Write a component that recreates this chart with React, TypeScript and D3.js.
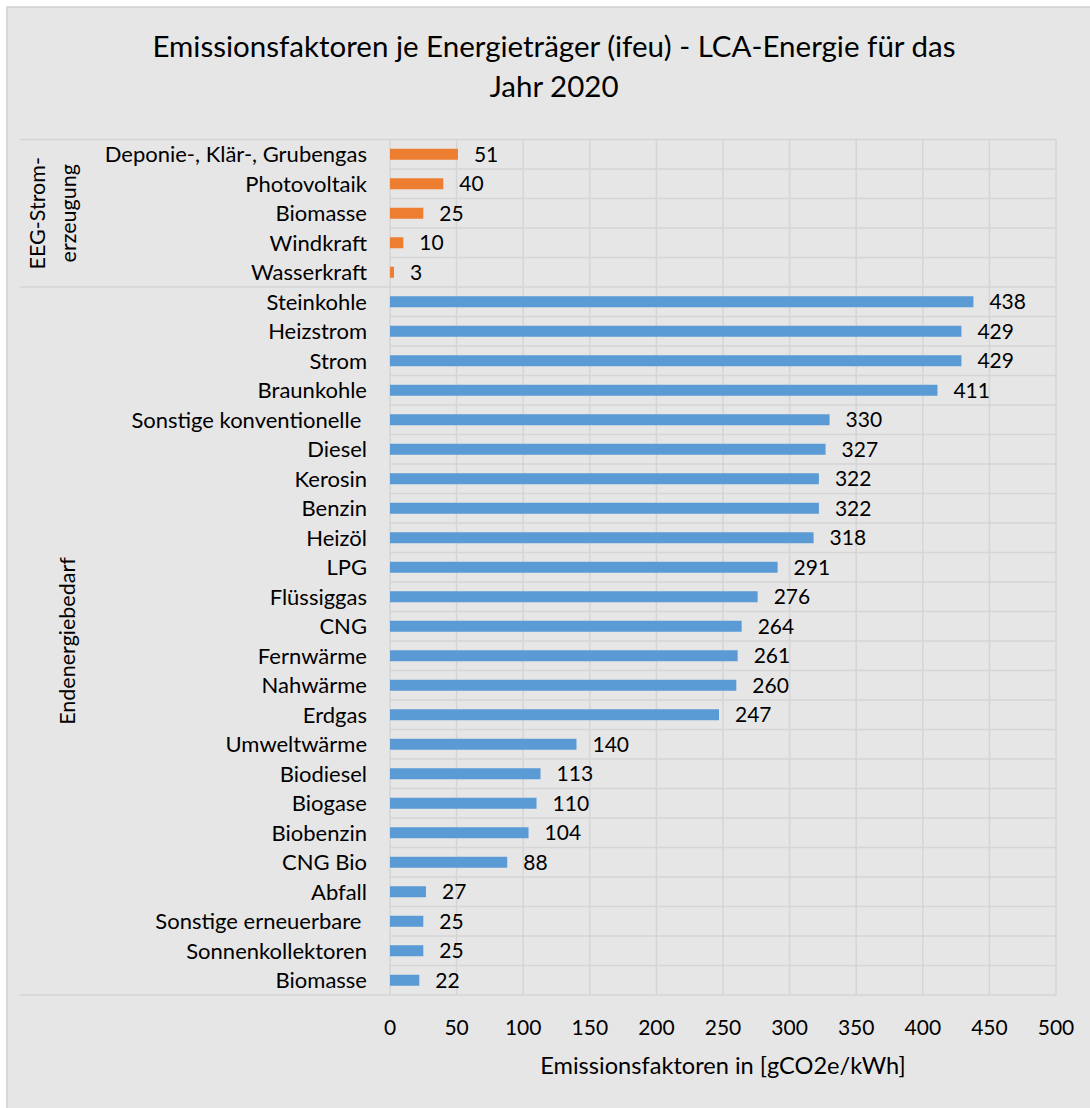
import React from 'react';
import * as d3 from 'd3';

const titleLines = ['Emissionsfaktoren je Energieträger (ifeu) - LCA-Energie für das', 'Jahr 2020'];
const axisTitle = 'Emissionsfaktoren in [gCO2e/kWh]';

const eegCategories = ['Deponie-, Klär-, Grubengas', 'Photovoltaik', 'Biomasse', 'Windkraft', 'Wasserkraft'];
const eegValues = [51, 40, 25, 10, 3];

const endCategories = [
  'Steinkohle', 'Heizstrom', 'Strom', 'Braunkohle', 'Sonstige konventionelle ', 'Diesel', 'Kerosin', 'Benzin',
  'Heizöl', 'LPG', 'Flüssiggas', 'CNG', 'Fernwärme', 'Nahwärme', 'Erdgas', 'Umweltwärme', 'Biodiesel',
  'Biogase', 'Biobenzin', 'CNG Bio', 'Abfall', 'Sonstige erneuerbare ', 'Sonnenkollektoren', 'Biomasse',
];
const endValues = [438, 429, 429, 411, 330, 327, 322, 322, 318, 291, 276, 264, 261, 260, 247, 140, 113, 110, 104, 88, 27, 25, 25, 22];

const groupLabels = [['EEG-Strom-', 'erzeugung'], ['Endenergiebedarf']];
const xTicks = [0, 50, 100, 150, 200, 250, 300, 350, 400, 450, 500];

const COLORS = ['#ED7D31', '#5B9BD5'];
const FONT = 'Lato, "Open Sans", sans-serif';

export default function App() {
  const rows = [
    ...eegCategories.map((c, i) => ({ key: `g0-${i}`, label: c, value: eegValues[i], group: 0 })),
    ...endCategories.map((c, i) => ({ key: `g1-${i}`, label: c, value: endValues[i], group: 1 })),
  ];
  const W = 1090;
  const H = 1108;
  const plotLeft = 390;
  const plotRight = 1056;
  const plotTop = 139.5;
  const plotBottom = 995;

  const x = d3.scaleLinear().domain([0, 500]).range([plotLeft, plotRight]);
  const y = d3
    .scaleBand<string>()
    .domain(rows.map((r) => r.key))
    .range([plotTop, plotBottom])
    .paddingInner(0.627)
    .paddingOuter(0.3135);
  const step = y.step();
  const rowTop = (i: number) => plotTop + step * i;

  const groupRanges = [
    [0, eegCategories.length],
    [eegCategories.length, rows.length],
  ];
  const gridColor = '#d5d5d5';

  return (
    <svg
      width={W}
      height={H}
      style={{ position: 'absolute', left: 0, top: 0 }}
      fontFamily={FONT}
    >
      <rect x={7} y={7} width={W + 10} height={H + 10} fill="#E7E6E6" stroke="#cfcfcf" strokeWidth={1.5} />

      {titleLines.map((t, i) => (
        <text key={i} x={554} y={57 + i * 40} textAnchor="middle" fontSize={29.5} fill="#000">
          {t}
        </text>
      ))}

      {/* vertical gridlines */}
      {xTicks.map((t) => (
        <line key={t} x1={x(t)} x2={x(t)} y1={plotTop} y2={plotBottom} stroke={gridColor} strokeWidth={1.5} />
      ))}
      {/* horizontal row lines */}
      {d3.range(rows.length + 1).map((i) => (
        <line key={i} x1={plotLeft} x2={plotRight} y1={rowTop(i)} y2={rowTop(i)} stroke={gridColor} strokeWidth={1.5} />
      ))}
      {/* category axis group separators */}
      {[0, eegCategories.length, rows.length].map((i) => (
        <line key={'s' + i} x1={20} x2={plotLeft} y1={rowTop(i)} y2={rowTop(i)} stroke={gridColor} strokeWidth={1.5} />
      ))}

      {/* bars */}
      {rows.map((r) => (
        <rect
          key={r.key}
          x={x(0)}
          y={y(r.key)}
          width={x(r.value) - x(0)}
          height={y.bandwidth()}
          fill={COLORS[r.group]}
        />
      ))}

      {/* value labels */}
      {rows.map((r) => (
        <text
          key={'v' + r.key}
          x={x(r.value) + 16}
          y={(y(r.key) as number) + y.bandwidth() / 2}
          dy="0.36em"
          fontSize={21}
          fill="#000"
        >
          {r.value}
        </text>
      ))}

      {/* category labels */}
      {rows.map((r) => (
        <text
          key={'c' + r.key}
          x={367}
          y={(y(r.key) as number) + y.bandwidth() / 2}
          dy="0.36em"
          textAnchor="end"
          fontSize={22}
          fill="#000"
          style={{ whiteSpace: 'pre' }}
        >
          {r.label}
        </text>
      ))}

      {/* group labels */}
      {groupLabels.map((lines, g) => {
        const cy = (rowTop(groupRanges[g][0]) + rowTop(groupRanges[g][1])) / 2;
        const baseX = lines.length === 1 ? 75 : 45;
        return lines.map((l, j) => {
          const bx = baseX + j * 31;
          return (
            <text
              key={g + '-' + j}
              transform={`translate(${bx},${cy}) rotate(-90)`}
              textAnchor="middle"
              fontSize={21.5}
              fill="#000"
            >
              {l}
            </text>
          );
        });
      })}

      {/* x tick labels */}
      {xTicks.map((t) => (
        <text key={'t' + t} x={x(t)} y={1035} textAnchor="middle" fontSize={21} fill="#000">
          {t}
        </text>
      ))}

      <text x={723} y={1074} textAnchor="middle" fontSize={23.6} fill="#000">
        {axisTitle}
      </text>
    </svg>
  );
}
